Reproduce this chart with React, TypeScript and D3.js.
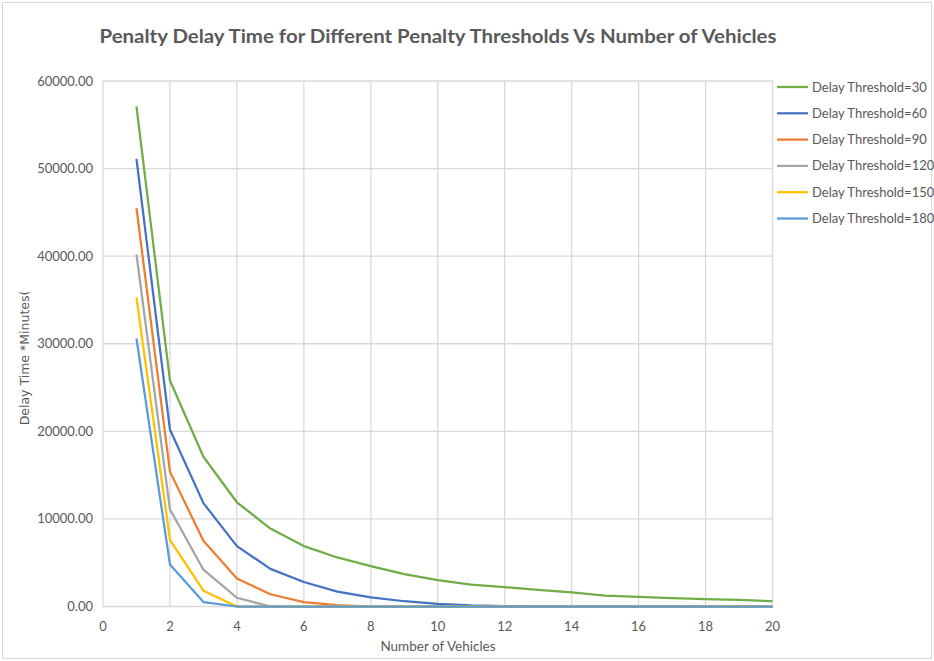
import React from "react";
import * as d3 from "d3";

const vehicles = d3.range(1, 21);

const seriesNames = [
  "Delay Threshold=30",
  "Delay Threshold=60",
  "Delay Threshold=90",
  "Delay Threshold=120",
  "Delay Threshold=150",
  "Delay Threshold=180",
];

const colours = ["#70ad47", "#4472c4", "#ed7d31", "#a5a5a5", "#ffc000", "#5b9bd5"];

const threshold30 = [57100, 25800, 17100, 11900, 8900, 6900, 5600, 4600, 3700, 3000, 2500, 2200, 1900, 1600, 1250, 1100, 950, 850, 750, 600];
const threshold60 = [51100, 20200, 11800, 6900, 4300, 2800, 1700, 1050, 600, 300, 120, 40, 0, 0, 0, 0, 0, 0, 0, 0];
const threshold90 = [45500, 15400, 7500, 3200, 1400, 500, 150, 0, 0, 0, 0, 0, 0, 0, 0, 0, 0, 0, 0, 0];
const threshold120 = [40200, 11100, 4200, 1000, 0, 0, 0, 0, 0, 0, 0, 0, 0, 0, 0, 0, 0, 0, 0, 0];
const threshold150 = [35300, 7600, 1800, 0, 0, 0, 0, 0, 0, 0, 0, 0, 0, 0, 0, 0, 0, 0, 0, 0];
const threshold180 = [30600, 4800, 500, 0, 0, 0, 0, 0, 0, 0, 0, 0, 0, 0, 0, 0, 0, 0, 0, 0];

const allSeries = [threshold30, threshold60, threshold90, threshold120, threshold150, threshold180];

const xTicks = [0, 2, 4, 6, 8, 10, 12, 14, 16, 18, 20];
const yTicks = [0, 10000, 20000, 30000, 40000, 50000, 60000];

const width = 934;
const height = 661;
const left = 103;
const right = 772.5;
const top = 81;
const bottom = 606.5;

const textColour = "#595959";
const gridColour = "#d9d9d9";
const font = "Lato, 'Open Sans', sans-serif";

export default function App() {
  const x = d3.scaleLinear().domain([0, 20]).range([left, right]);
  const y = d3.scaleLinear().domain([0, 60000]).range([bottom, top]);

  const line = d3
    .line<number>()
    .x((d, i) => x(vehicles[i]))
    .y((d) => y(d));

  const legendY = d3.scalePoint<string>().domain(seriesNames).range([87, 218.5]);

  return (
    <svg
      width={width}
      height={height}
      style={{ position: "absolute", left: 0, top: 0, background: "#fff" }}
    >
      <rect x={2.5} y={2.5} width={929} height={656} fill="#fff" stroke={gridColour} />

      <text
        x={438}
        y={43}
        textAnchor="middle"
        fontFamily={font}
        fontWeight="bold"
        fontSize={19}
        fill={textColour}
        textLength={677}
        lengthAdjust="spacingAndGlyphs"
      >
        Penalty Delay Time for Different Penalty Thresholds Vs Number of Vehicles
      </text>

      {/* grid */}
      {yTicks.map((t) => (
        <line key={"gy" + t} x1={left} x2={right} y1={y(t)} y2={y(t)} stroke={gridColour} strokeWidth={1.3} />
      ))}
      {xTicks.map((t) => (
        <line key={"gx" + t} x1={x(t)} x2={x(t)} y1={top} y2={bottom} stroke={gridColour} strokeWidth={1.3} />
      ))}

      {/* tick labels */}
      {yTicks.map((t) => (
        <text
          key={"ty" + t}
          x={93}
          y={y(t) + 4.5}
          textAnchor="end"
          fontFamily={font}
          fontSize={13}
          fill={textColour}
        >
          {d3.format(".2f")(t)}
        </text>
      ))}
      {xTicks.map((t) => (
        <text
          key={"tx" + t}
          x={x(t)}
          y={631}
          textAnchor="middle"
          fontFamily={font}
          fontSize={13}
          fill={textColour}
        >
          {t}
        </text>
      ))}

      <text x={438} y={651} textAnchor="middle" fontFamily={font} fontSize={13.5} fill={textColour}>
        Number of Vehicles
      </text>
      <text
        transform="translate(29,358) rotate(-90)"
        textAnchor="middle"
        fontFamily="'DejaVu Sans', sans-serif"
        fontSize={12.5}
        fill={textColour}
      >
        Delay Time *Minutes(
      </text>

      {/* series */}
      {allSeries.map((s, i) => (
        <path
          key={seriesNames[i]}
          d={line(s) || ""}
          fill="none"
          stroke={colours[i]}
          strokeWidth={2.25}
          strokeLinejoin="round"
        />
      ))}

      {/* legend */}
      {seriesNames.map((name, i) => (
        <g key={"lg" + name} transform={`translate(0,${legendY(name)})`}>
          <line x1={777} x2={808} y1={0} y2={0} stroke={colours[i]} strokeWidth={2.25} />
          <text x={812} y={4.5} fontFamily={font} fontSize={13} fill={textColour}>
            {name}
          </text>
        </g>
      ))}
    </svg>
  );
}
